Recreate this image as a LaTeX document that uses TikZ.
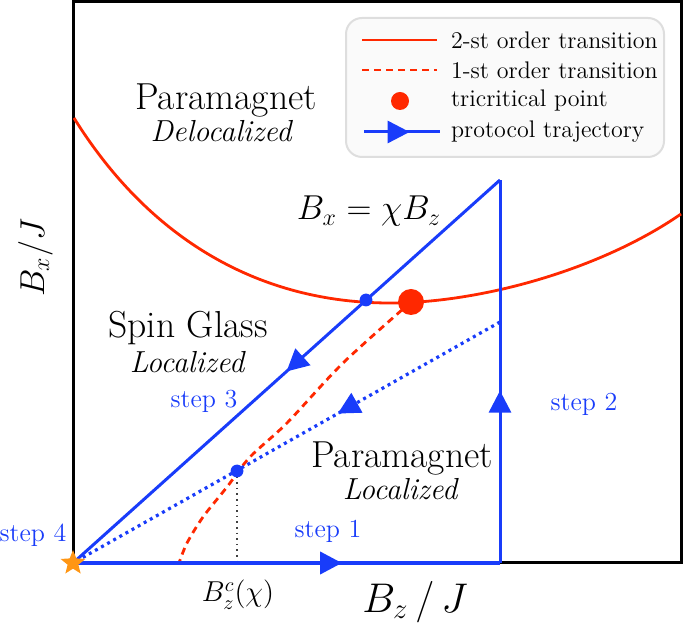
\documentclass[tikz,border=0pt]{standalone}
\usepackage{amsmath, amssymb}
\usepackage{fontspec}
\usepackage{tikz}
\usetikzlibrary{arrows.meta, positioning, shapes.geometric, decorations.markings}

\definecolor{trajblue}{RGB}{25,60,250}
\definecolor{transred}{RGB}{255,40,0}
\definecolor{starorange}{RGB}{255,150,20}

\begin{document}
\begin{tikzpicture}[x=0.5pt, y=-0.5pt,
		traj/.style={trajblue, line width=1.5pt},
		midarrow/.style={postaction={decorate, decoration={markings,
			mark=at position #1 with {\arrow{Triangle[length=11pt,width=11pt]}}}}},
		steplabel/.style={text=trajblue, font=\fontsize{13}{15}\selectfont, anchor=base},
		phase/.style={font=\fontsize{18.8}{22}\selectfont, anchor=base},
		regime/.style={font=\fontsize{15.2}{18}\selectfont\itshape, anchor=base},
		legtext/.style={font=\large, anchor=west}]
				\useasboundingbox (0,0) rectangle (685,624);

				% Points of the diagram
				\coordinate (O) at (73,563);
				\coordinate (A) at (500,563);
				\coordinate (C) at (500,180);
				\coordinate (D) at (500,322);
				\coordinate (T) at (411,302);
				\coordinate (P) at (366,300);
				\coordinate (Q) at (237,471);
				\coordinate (Qb) at (237,563);

				% Frame
				\draw[line width=1.5pt] (73,2) rectangle (681,563);

				% Second order line
				\draw[transred, line width=1.4pt] (74,118) .. controls (150,240) and (260,303) .. (390,303)
					.. controls (480,303) and (600,270) .. (681,214);

				% First order line
				\draw[transred, line width=1.4pt, dash pattern=on 3.5pt off 2.5pt] plot[smooth] coordinates {
					(T) (343,363) (287,423) (250,457) (227,487) (203,517) (187,543) (179,563)};

				% Critical field
				\draw[black!75, line width=0.8pt, dotted] (Q) -- (Qb);

				% Protocol trajectory
				\draw[traj, line width=2pt, midarrow=0.63] (O) -- (A);
				\draw[traj, midarrow=0.45] (A) -- (C);
				\draw[traj, midarrow=0.5] (C) -- (O);
				\draw[traj, dotted, line width=1.6pt, midarrow=0.38] (D) -- (O);

				\fill[transred] (T) circle (6.5pt);
				\fill[trajblue] (P) circle (3.2pt);
				\fill[trajblue] (Q) circle (3.2pt);
				\node[star, star points=5, star point ratio=2.3, fill=starorange,
					minimum size=13pt, inner sep=0pt] (start) at (O) {};

				% Labels
				\node[phase] (para1) at (226,110) {Paramagnet};
				\node[regime] (deloc) at (221,142) {Delocalized};
				\node[phase] (glass) at (188,338) {Spin Glass};
				\node[regime] (loc1) at (187,373) {Localized};
				\node[phase] (para2) at (402,468) {Paramagnet};
				\node[regime] (loc2) at (400,500) {Localized};
				\node[font=\LARGE, anchor=base] (line) at (369,220) {$B_x = \chi B_z$};
				\node[font=\Large, anchor=base] (bzc) at (238,602) {$B_z^c(\chi)$};
				\node[font=\huge, anchor=base] (xlab) at (415,612) {$B_z\,/\,J$};
				\node[font=\fontsize{17.5}{20}\selectfont, anchor=base, rotate=90] (ylab) at (44,258) {$B_x/J$};

				\node[steplabel] (s1) at (328,538) {step 1};
				\node[steplabel] (s2) at (584,411) {step 2};
				\node[steplabel] (s3) at (204,408) {step 3};
				\node[steplabel] (s4) at (33,542) {step 4};

				% Legend
				\draw[black!13, fill=black!2, line width=1pt, rounded corners=8pt] (346,18) rectangle (664,157);
				\draw[transred, line width=1.2pt] (362,40) -- (437,40);
				\draw[transred, line width=1.4pt, dash pattern=on 3.5pt off 2.5pt] (362,70) -- (437,70);
				\fill[transred] (400,101) circle (4.5pt);
				\draw[traj, midarrow=0.6] (364,132) -- (440,132);
				\node[legtext] (l1) at (444,40) {2-st order transition};
				\node[legtext] (l2) at (444,70) {1-st order transition};
				\node[legtext] (l3) at (444,101) {tricritical point};
				\node[legtext] (l4) at (444,132) {protocol trajectory};

			\end{tikzpicture}
\end{document}
